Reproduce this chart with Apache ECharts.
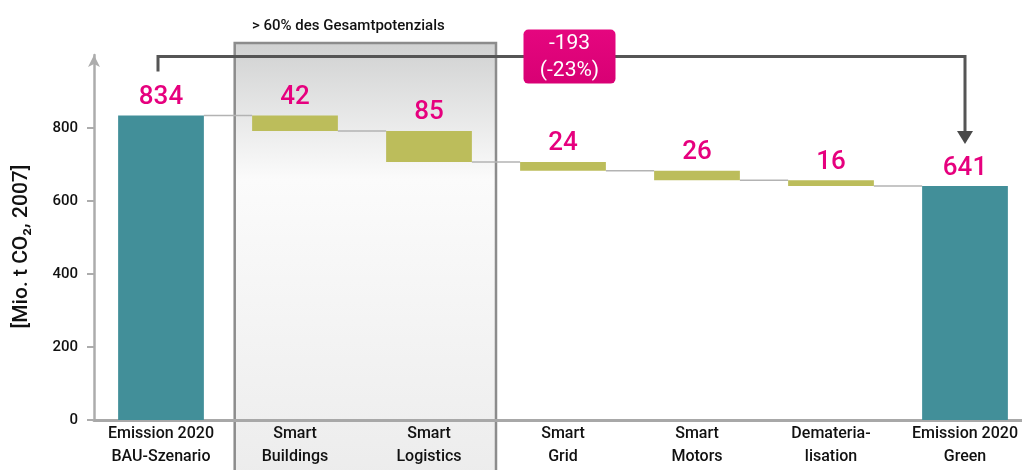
<!DOCTYPE html>
<html>
<head>
<meta charset="utf-8">
<script src="https://cdn.jsdelivr.net/npm/echarts@6/dist/echarts.min.js"></script>
<style>
html, body { margin: 0; padding: 0; background: #fff; }
#chart { width: 1022px; height: 470px; }
</style>
</head>
<body>
<div id="chart"></div>
<script>
const categories = ['Emission 2020\nBAU-Szenario', 'Smart\nBuildings', 'Smart\nLogistics', 'Smart\nGrid', 'Smart\nMotors', 'Demateria-\nlisation', 'Emission 2020\nGreen'];
const startTotal = 834;
const savings = [42, 85, 24, 26, 16];
const endTotal = 641;
const yTicks = [0, 200, 400, 600, 800];

// running totals after each saving step
const levels = [startTotal];
savings.forEach(s => levels.push(levels[levels.length - 1] - s));

const baseData = [0].concat(levels.slice(1)).concat([0]);
const valueData = [startTotal].concat(savings).concat([endTotal]);
const connectorData = levels.map((v, i) => [i, v]);

const diff = endTotal - startTotal;
const diffPct = Math.round(diff / startTotal * 100);

const TEAL = '#428f99';
const OLIVE = '#bcbd5b';
const MAGENTA = '#e6007e';
const SANS = "Roboto, 'Liberation Sans', sans-serif";

const chart = echarts.init(document.getElementById('chart'));

chart.setOption({
  animation: false,
  title: {
    text: '> 60% des Gesamtpotenzials',
    left: 247,
    top: 14,
    textStyle: { fontFamily: SANS, fontSize: 15, fontWeight: 500, color: '#111' }
  },
  grid: { left: 94, top: 55, bottom: 50, width: 938, outerBoundsMode: 'none', containLabel: false },
  xAxis: {
    type: 'category',
    data: categories,
    axisLine: { lineStyle: { color: '#a8a8a8', width: 3 } },
    axisTick: { show: false },
    axisLabel: {
      interval: 0,
      margin: 2,
      color: '#111',
      fontFamily: SANS,
      fontSize: 16,
      fontWeight: 500,
      lineHeight: 23
    }
  },
  yAxis: {
    type: 'value',
    min: 0,
    max: 1000,
    interval: 200,
    name: '[Mio. t CO₂, 2007]',
    nameLocation: 'middle',
    nameRotate: 90,
    nameGap: 62,
    nameTextStyle: { fontFamily: SANS, fontSize: 21, fontWeight: 500, color: '#111', padding: [0, 18, 0, 0] },
    splitLine: { show: false },
    axisLine: {
      show: true,
      symbol: ['none', 'arrow'],
      symbolSize: [9, 12],
      lineStyle: { color: '#acacac', width: 2.5 }
    },
    axisTick: {
      show: true,
      length: 7,
      customValues: yTicks,
      lineStyle: { color: '#acacac', width: 2 }
    },
    axisLabel: {
      customValues: yTicks,
      margin: 16,
      color: '#111',
      fontFamily: SANS,
      fontSize: 15,
      fontWeight: 500
    }
  },
  series: [
    {
      // shaded "> 60%" block behind Smart Buildings / Smart Logistics
      type: 'custom',
      z: -1,
      silent: true,
      clip: false,
      data: [[1, 2]],
      renderItem: function (params, api) {
        const a = api.coord([api.value(0), 0]);
        const b = api.coord([api.value(1), 0]);
        const band = api.size([1, 0])[0];
        const cs = params.coordSys;
        const x1 = a[0] - band * 0.45;
        const x2 = b[0] + band * 0.5;
        const y1 = cs.y - 12;
        const y2 = cs.y + cs.height + 80;
        return {
          type: 'rect',
          shape: { x: x1, y: y1, width: x2 - x1, height: y2 - y1 },
          style: {
            fill: new echarts.graphic.LinearGradient(0, 0, 0, 1, [
              { offset: 0, color: '#d0d1d1' },
              { offset: 0.3, color: '#fbfbfb' },
              { offset: 1, color: '#ebebeb' }
            ]),
            stroke: '#8c8c8c',
            lineWidth: 2.5
          }
        };
      }
    },
    {
      // connector lines between bars
      type: 'custom',
      silent: true,
      data: connectorData,
      renderItem: function (params, api) {
        const i = api.value(0), v = api.value(1);
        const p = api.coord([i, v]);
        const q = api.coord([i + 1, v]);
        const half = api.size([1, 0])[0] * 0.64 / 2;
        return {
          type: 'line',
          shape: { x1: p[0] + half, y1: p[1], x2: q[0] - half, y2: q[1] },
          style: { stroke: '#b3b3b3', lineWidth: 1.5 }
        };
      }
    },
    {
      type: 'bar',
      stack: 'wf',
      silent: true,
      barCategoryGap: '36%',
      itemStyle: { color: 'transparent' },
      data: baseData
    },
    {
      type: 'bar',
      stack: 'wf',
      barCategoryGap: '36%',
      data: valueData.map((v, i) => ({
        value: v,
        itemStyle: { color: (i === 0 || i === valueData.length - 1) ? TEAL : OLIVE }
      })),
      label: {
        show: true,
        position: 'top',
        distance: 5,
        color: MAGENTA,
        fontFamily: SANS,
        fontSize: 26,
        fontWeight: 500
      }
    },
    {
      // bracket with arrow and total-change box
      type: 'custom',
      silent: true,
      clip: false,
      z: 5,
      data: [[0, categories.length - 1]],
      renderItem: function (params, api) {
        const a = api.coord([api.value(0), startTotal]);
        const b = api.coord([api.value(1), endTotal]);
        const yl = a[1] - 59;
        const xl = a[0] - 3;
        const xr = b[0];
        const cx = (xl + xr) / 2 + 8;
        return {
          type: 'group',
          children: [
            {
              type: 'polyline',
              shape: { points: [[xl, a[1] - 44], [xl, yl], [xr, yl], [xr, b[1] - 54]] },
              style: { stroke: '#555', lineWidth: 3, fill: null }
            },
            {
              type: 'polygon',
              shape: { points: [[xr - 8, b[1] - 55], [xr + 8, b[1] - 55], [xr, b[1] - 42]] },
              style: { fill: '#4a4a4a' }
            },
            {
              type: 'rect',
              shape: { x: cx - 46, y: yl - 27, width: 92, height: 54, r: 5 },
              style: {
                fill: new echarts.graphic.LinearGradient(0, 0, 0, 1, [
                  { offset: 0, color: '#e5067f' },
                  { offset: 1, color: '#d80074' }
                ])
              }
            },
            {
              type: 'text',
              x: cx,
              y: yl + 1,
              style: {
                text: diff + '\n(' + diffPct + '%)',
                fill: '#fff',
                fontFamily: SANS,
                fontSize: 21,
                lineHeight: 27,
                textAlign: 'center',
                textVerticalAlign: 'middle'
              }
            }
          ]
        };
      }
    }
  ]
});
</script>
</body>
</html>
